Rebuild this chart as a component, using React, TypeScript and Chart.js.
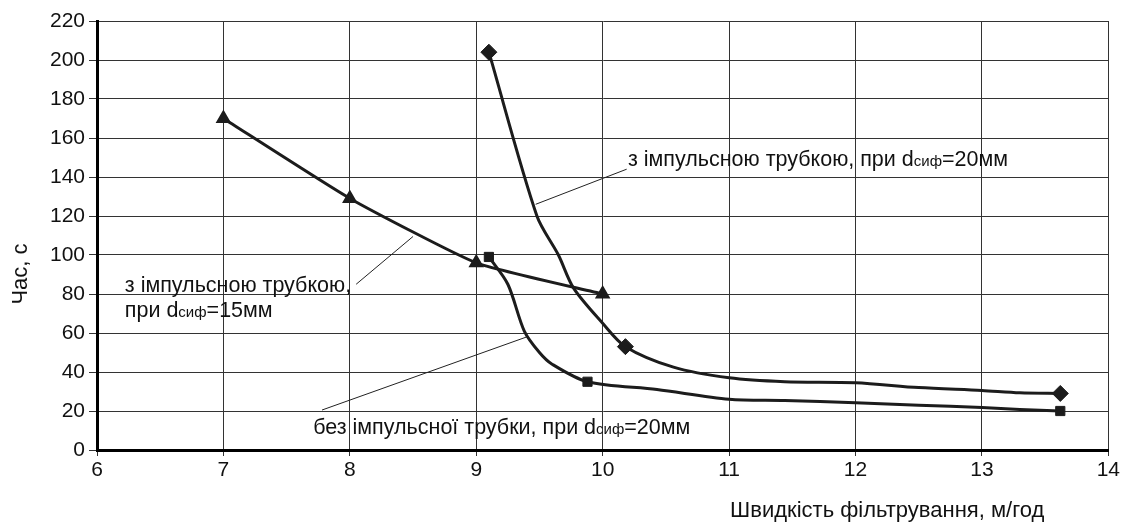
import { useEffect, useRef } from "react";
import { Chart, registerables } from "chart.js";

Chart.register(...registerables);

// axis ticks
const xTickValues = [6, 7, 8, 9, 10, 11, 12, 13, 14];
const yTickValues = [0, 20, 40, 60, 80, 100, 120, 140, 160, 180, 200, 220];

// з імпульсною трубкою, dсиф=15мм (triangles)
const tube15X = [7, 8, 9, 10];
const tube15Y = [170, 129, 96, 80];

// з імпульсною трубкою, dсиф=20мм (diamonds) - measured points
const tube20X = [9.1, 10.18, 13.62];
const tube20Y = [204, 53, 29];
// traced curve through them
const tube20CurveX = [9.1, 9.48, 9.65, 9.77, 10.0, 10.18, 10.56, 11, 11.44, 12, 12.5, 13, 13.3, 13.62];
const tube20CurveY = [204, 120, 100, 83, 65, 53, 42.5, 37, 35, 34.5, 32, 30.5, 29.3, 29];

// без імпульсної трубки, dсиф=20мм (squares) - measured points
const noTubeX = [9.1, 9.88, 13.62];
const noTubeY = [99, 35, 20];
const noTubeCurveX = [9.1, 9.25, 9.38, 9.5, 9.6, 9.88, 10.43, 11, 11.44, 12, 12.5, 13, 13.3, 13.62];
const noTubeCurveY = [99, 85, 61, 50, 44, 35, 31, 26, 25.4, 24.2, 23, 21.8, 20.8, 20];

// leader lines from labels to curves
const leader20X = [10.19, 9.47];
const leader20Y = [144, 126];
const leader15X = [8.05, 8.5];
const leader15Y = [85, 109.5];
const leaderNoTubeX = [7.78, 9.4];
const leaderNoTubeY = [20.5, 58];

type Seg = [string, boolean];
const notes: { x: number; y: number; lines: Seg[][] }[] = [
  { x: 10.2, y: 149, lines: [[["з імпульсною трубкою, при d", false], ["сиф", true], ["=20мм", false]]] },
  { x: 6.22, y: 84.6, lines: [[["з імпульсною трубкою,", false]], [["при d", false], ["сиф", true], ["=15мм", false]]] },
  { x: 7.71, y: 12, lines: [[["без імпульсної трубки, при d", false], ["сиф", true], ["=20мм", false]]] },
];

const FONT = "'Liberation Sans', Arial, sans-serif";
const INK = "#1c1c1c";

const pts = (xs: number[], ys: number[]) => xs.map((x, i) => ({ x, y: ys[i] }));

const notesPlugin = {
  id: "notes",
  afterDatasetsDraw(chart: any) {
    const ctx = chart.ctx;
    const xs = chart.scales.x;
    const ys = chart.scales.y;
    const area = chart.chartArea;
    ctx.save();
    ctx.fillStyle = "#111";
    ctx.textBaseline = "alphabetic";
    ctx.textAlign = "left";
    notes.forEach((n) => {
      const left = xs.getPixelForValue(n.x);
      const top = ys.getPixelForValue(n.y);
      n.lines.forEach((line, li) => {
        let cx = left;
        const base = top + li * 25 + 7;
        line.forEach(([t, small]) => {
          ctx.font = small ? `15px ${FONT}` : `21.5px ${FONT}`;
          ctx.fillText(t, cx, base);
          cx += ctx.measureText(t).width;
        });
      });
    });

    // axis titles
    ctx.font = `22px ${FONT}`;
    ctx.textAlign = "right";
    ctx.textBaseline = "middle";
    ctx.fillText("Швидкість фільтрування, м/год", area.right - 64, area.bottom + 61);

    ctx.translate(21, area.top + 253);
    ctx.rotate(-Math.PI / 2);
    ctx.textAlign = "center";
    ctx.font = `22px ${FONT}`;
    ctx.fillText("Час, с", 0, 0);
    ctx.restore();
  },
};

const App: React.FC = () => {
  const canvasRef = useRef<HTMLCanvasElement | null>(null);

  useEffect(() => {
    if (!canvasRef.current) return;

    const curve = (data: any[]) => ({
      data,
      borderColor: INK,
      borderWidth: 3,
      pointRadius: 0,
      tension: 0.3,
    });
    const marks = (data: any[], style: string, r: number) => ({
      data,
      showLine: false,
      pointStyle: style,
      pointRadius: r,
      pointBackgroundColor: INK,
      pointBorderColor: INK,
      pointBorderWidth: 1,
    });
    const leader = (data: any[]) => ({
      data,
      borderColor: "#222",
      borderWidth: 1,
      pointRadius: 0,
    });

    const chart = new Chart(canvasRef.current, {
      type: "line",
      data: {
        datasets: [
          leader(pts(leader20X, leader20Y)),
          leader(pts(leader15X, leader15Y)),
          leader(pts(leaderNoTubeX, leaderNoTubeY)),
          {
            ...curve(pts(tube15X, tube15Y)),
            tension: 0.15,
            pointStyle: "triangle",
            pointRadius: 6,
            pointBackgroundColor: INK,
            pointBorderColor: INK,
          },
          curve(pts(tube20CurveX, tube20CurveY)),
          curve(pts(noTubeCurveX, noTubeCurveY)),
          marks(pts(tube20X, tube20Y), "rectRot", 8),
          marks(pts(noTubeX, noTubeY), "rect", 6.5),
        ] as any,
      },
      options: {
        animation: false,
        responsive: true,
        maintainAspectRatio: false,
        layout: { padding: { top: 21, right: 12, left: 0, bottom: 0 } },
        plugins: { legend: { display: false }, tooltip: { enabled: false } },
        scales: {
          x: {
            type: "linear",
            min: 6,
            max: 14,
            afterBuildTicks: (s: any) => {
              s.ticks = xTickValues.map((v) => ({ value: v }));
            },
            afterFit: (s: any) => {
              s.height = 77;
            },
            grid: { color: "#333", lineWidth: 1, tickLength: 6 },
            border: { color: "#000", width: 3 },
            ticks: { color: "#111", padding: 2, font: { family: FONT, size: 21 }, maxRotation: 0 },
          },
          y: {
            type: "linear",
            min: 0,
            max: 220,
            afterBuildTicks: (s: any) => {
              s.ticks = yTickValues.map((v) => ({ value: v }));
            },
            afterFit: (s: any) => {
              s.width = 97;
            },
            grid: { color: "#333", lineWidth: 1, tickLength: 8 },
            border: { color: "#000", width: 3 },
            ticks: { color: "#111", padding: 4, font: { family: FONT, size: 21 } },
          },
        },
      },
      plugins: [notesPlugin],
    });

    return () => {
      chart.destroy();
    };
  }, []);

  return (
    <div style={{ position: "fixed", left: 0, top: 0, width: 1122, height: 527, background: "#fff" }}>
      <canvas ref={canvasRef} />
    </div>
  );
};

export default App;
